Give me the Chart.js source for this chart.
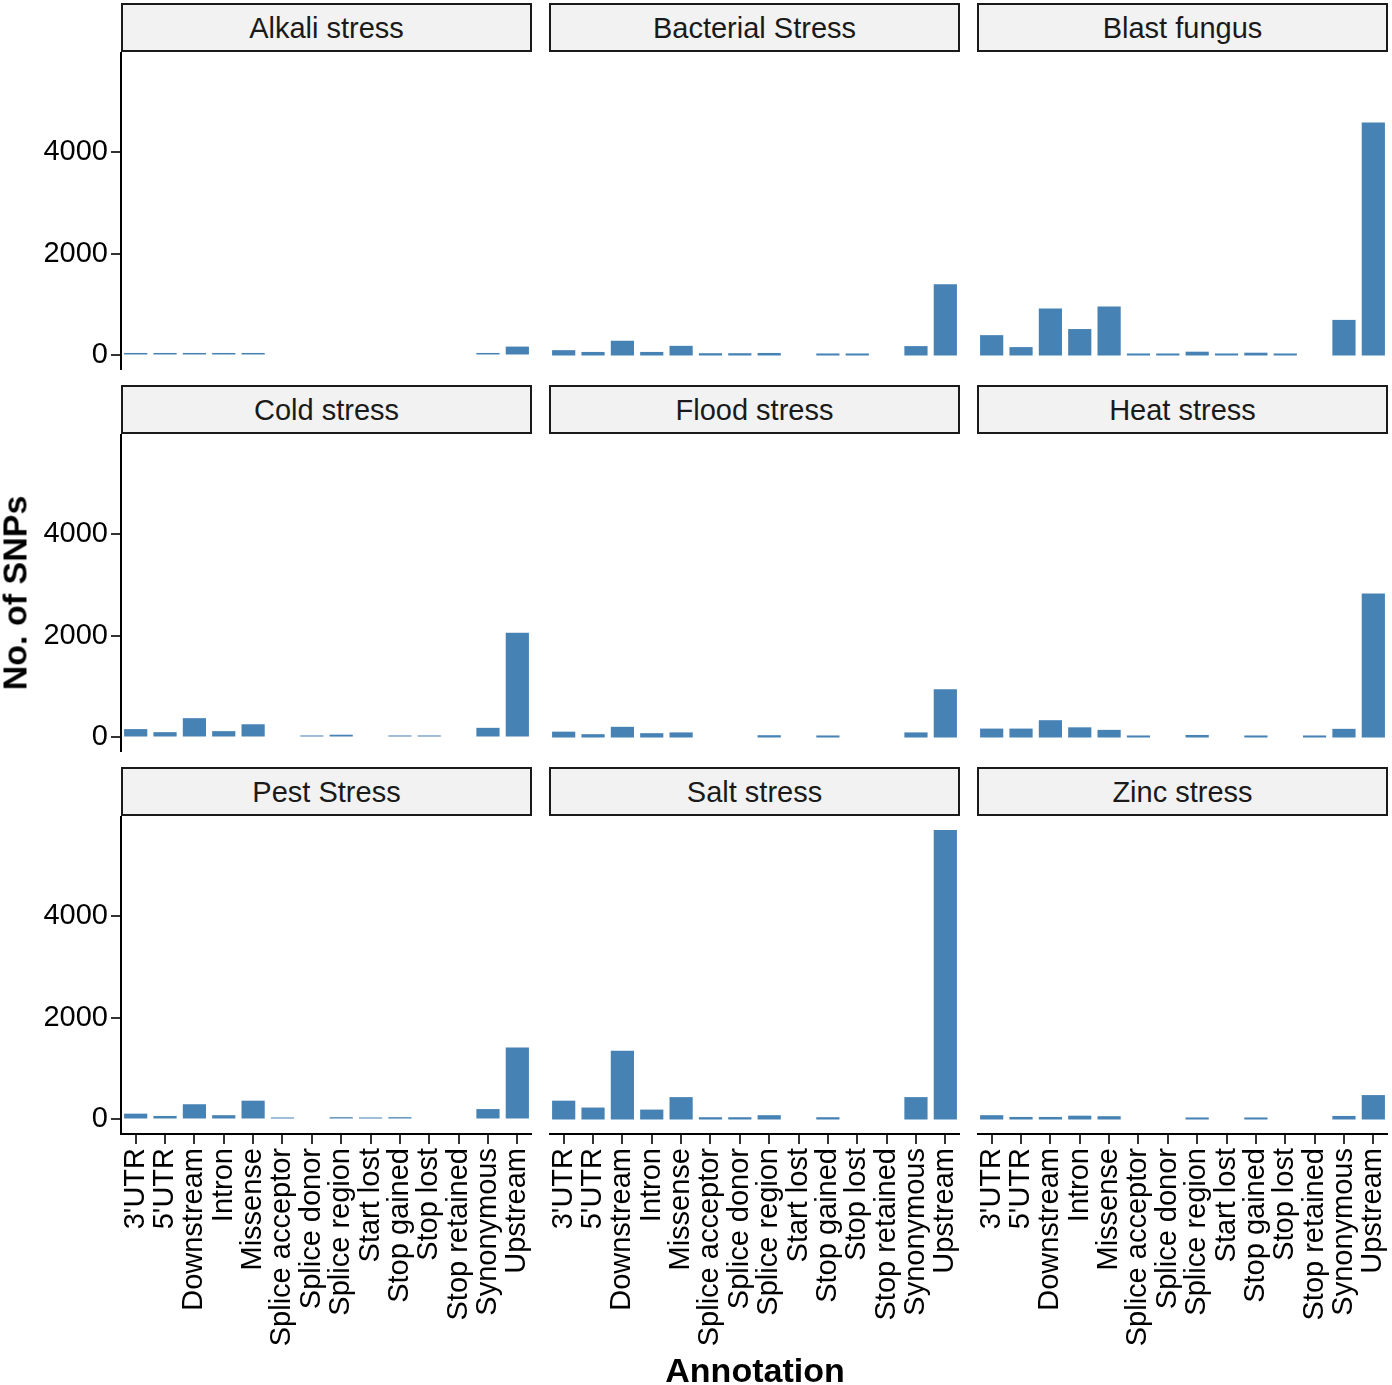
<!DOCTYPE html>
<html>
<head>
<meta charset="utf-8">
<script src="https://cdn.jsdelivr.net/npm/chart.js@4.4.1/dist/chart.umd.min.js"></script>
<style>
  body { margin: 0; background: #fff; font-family: "Liberation Sans", Arial, sans-serif; }
  #wrap { position: relative; width: 1392px; height: 1385px; overflow: hidden; }
  .strip {
    position: absolute; box-sizing: border-box; border: 2px solid #1a1a1a;
    background: #f2f2f2; color: #1a1a1a; font-size: 29px; text-align: center;
  }
  .panel { position: absolute; }
  .axis-title { position: absolute; font-weight: bold; font-size: 34px; color: #000; white-space: nowrap; }
</style>
</head>
<body>
<div id="wrap"></div>
<script>
// Categories (x axis)
const annotations = ["3'UTR", "5'UTR", "Downstream", "Intron", "Missense", "Splice acceptor",
  "Splice donor", "Splice region", "Start lost", "Stop gained", "Stop lost", "Stop retained",
  "Synonymous", "Upstream"];

const panelTitles = ["Alkali stress", "Bacterial Stress", "Blast fungus", "Cold stress",
  "Flood stress", "Heat stress", "Pest Stress", "Salt stress", "Zinc stress"];

// SNP counts per annotation (null = no bar)
const alkaliStress    = [50, 50, 50, 50, 50, null, null, null, null, null, null, null, 50, 175];
const bacterialStress = [105, 70, 290, 70, 190, 45, 45, 50, null, 40, 40, null, 185, 1400];
const blastFungus     = [400, 165, 925, 520, 965, 40, 40, 75, 40, 55, 40, null, 700, 4580];
const coldStress      = [165, 105, 380, 125, 260, null, 40, 55, null, 40, 40, null, 190, 2060];
const floodStress     = [115, 65, 210, 85, 100, null, null, 45, null, 40, null, null, 100, 950];
const heatStress      = [175, 175, 340, 200, 150, 40, null, 50, null, 40, null, 40, 170, 2830];
const pestStress      = [115, 70, 300, 85, 370, 40, null, 45, 40, 45, null, null, 205, 1415];
const saltStress      = [370, 235, 1350, 195, 440, 45, 45, 85, null, 45, null, null, 440, 5690];
const zincStress      = [85, 50, 50, 75, 65, null, null, 40, null, 40, null, null, 70, 480];

const panelValues = [alkaliStress, bacterialStress, blastFungus, coldStress, floodStress,
  heatStress, pestStress, saltStress, zincStress];

const yTicks = [0, 2000, 4000];
const yMin = -285;
const yMax = 5965;

// layout (px)
const plotX = [121, 549, 977];
const plotY = [52, 434, 816];
const plotW = 411;
const plotH = 318;
const stripH = 49;
const xAxisH = 232;
const barColor = '#4682B4';

const wrap = document.getElementById('wrap');

function addDiv(cls, text, css) {
  const d = document.createElement('div');
  d.className = cls;
  d.textContent = text;
  Object.assign(d.style, css);
  wrap.appendChild(d);
  return d;
}

panelTitles.forEach((title, idx) => {
  const col = idx % 3, row = Math.floor(idx / 3);
  const showY = col === 0;
  const showX = row === 2;

  addDiv('strip', title, {
    left: plotX[col] + 'px', top: (plotY[row] - stripH) + 'px',
    width: plotW + 'px', height: stripH + 'px', lineHeight: (stripH - 2) + 'px'
  });

  const left = showY ? 0 : plotX[col];
  const yAxisW = plotX[col] - left;
  const box = document.createElement('div');
  box.className = 'panel';
  box.style.left = left + 'px';
  box.style.top = plotY[row] + 'px';
  box.style.width = (yAxisW + plotW) + 'px';
  box.style.height = (plotH + (showX ? xAxisH : 0)) + 'px';
  const canvas = document.createElement('canvas');
  box.appendChild(canvas);
  wrap.appendChild(box);

  new Chart(canvas.getContext('2d'), {
    type: 'bar',
    data: {
      labels: annotations,
      datasets: [{
        data: panelValues[idx],
        backgroundColor: barColor,
        borderWidth: 0,
        barPercentage: 0.79,
        categoryPercentage: 1.0
      }]
    },
    options: {
      responsive: true,
      maintainAspectRatio: false,
      animation: false,
      layout: { padding: 0 },
      plugins: { legend: { display: false }, tooltip: { enabled: false } },
      scales: {
        x: {
          display: showX,
          offset: true,
          grid: { display: true, drawOnChartArea: false, drawTicks: true, tickLength: 10,
                  offset: false, color: '#333', lineWidth: 2 },
          border: { display: true, color: '#000', width: 2 },
          ticks: { autoSkip: false, minRotation: 90, maxRotation: 90, padding: 4,
                   color: '#000', font: { family: 'Liberation Sans', size: 29 } },
          afterFit: (s) => {
            if (showX) s.height = xAxisH;
            s.paddingLeft = 0; s.paddingRight = 0;
          }
        },
        y: {
          display: showY,
          min: yMin,
          max: yMax,
          grid: { display: true, drawOnChartArea: false, drawTicks: true, tickLength: 10,
                  color: '#333', lineWidth: 2 },
          border: { display: true, color: '#000', width: 2 },
          ticks: { padding: 3, color: '#000', font: { family: 'Liberation Sans', size: 29 },
                   callback: (v) => String(v) },
          afterBuildTicks: (s) => { s.ticks = yTicks.map(v => ({ value: v })); },
          afterFit: (s) => {
            if (showY) s.width = yAxisW;
            s.paddingTop = 0; s.paddingBottom = 0;
          }
        }
      }
    }
  });
});

// axis titles
const yt = addDiv('axis-title', 'No. of SNPs', { left: '15px', top: '593px' });
yt.style.transform = 'translate(-50%, -50%) rotate(-90deg)';
const xt = addDiv('axis-title', 'Annotation', { left: '755px', top: '1370px' });
xt.style.transform = 'translate(-50%, -50%)';
</script>
</body>
</html>
